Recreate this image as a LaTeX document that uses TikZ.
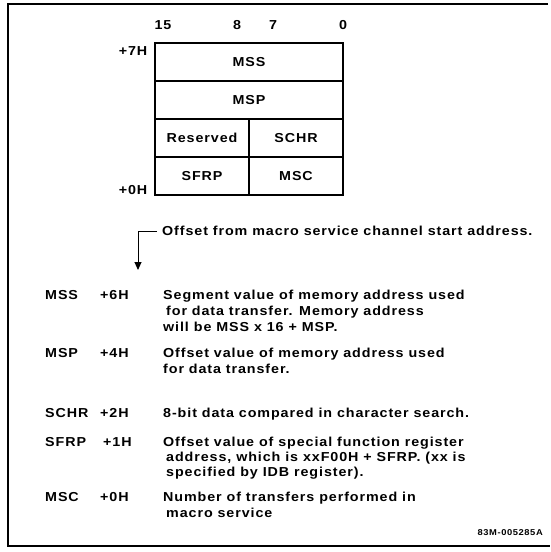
\documentclass[tikz,border=0pt]{standalone}
\usepackage{fontspec}
\usetikzlibrary{arrows.meta}
\newfontfamily\df[FakeStretch=1.1,LetterSpace=7]{Liberation Sans Bold}
\begin{document}
\begin{tikzpicture}[x=1pt,y=-1pt,
  txt/.style={font=\df\fontsize{13}{15}\selectfont, inner sep=0pt, anchor=base west},
  lbl/.style={font=\df\fontsize{13}{15}\selectfont, inner sep=0pt, anchor=base},
  cell/.style={draw, line width=1.5pt, inner sep=0pt, text height=9.3pt, text depth=0pt,
    font=\df\fontsize{13}{15}\selectfont},
  wide/.style={cell, minimum width=188pt, minimum height=38pt},
  half/.style={cell, minimum width=94pt, minimum height=38pt},
  frame/.style={line width=1.4pt},
  conn/.style={line width=1pt, -{Triangle[length=8pt,width=7pt]}}]
\useasboundingbox (0,0) rectangle (550,552);
% frame
\draw[frame] (548,4) -- (8,4) -- (8,546) -- (550,546);
% bit numbers
\node[lbl] (b15) at (163,29.6) {15};
\node[lbl] (b8) at (237,29.6) {8};
\node[lbl] (b7) at (273,29.6) {7};
\node[lbl] (b0) at (343,29.6) {0};
\node[lbl] (o7) at (133,55.6) {+7H};
\node[lbl] (o0) at (133,194.6) {+0H};
% register cells
\node[wide] (mss) at (249,62) {MSS};
\node[wide] (msp) at (249,100) {MSP};
\node[half] (res) at (202,138) {Reserved};
\node[half] (schr) at (296,138) {SCHR};
\node[half] (sfrp) at (202,176) {SFRP};
\node[half] (msc) at (296,176) {MSC};
% offset note and arrow
\node[txt] (off) at (162,235.6) {Offset from macro service channel start address.};
\coordinate (a0) at (157,231);
\coordinate (a1) at (138,231);
\coordinate (a2) at (138,270);
\draw[conn] (a0) -- (a1) -- (a2);
% descriptions
\node[txt] (n1) at (45,299.6) {MSS};
\node[txt] (f1) at (100,299.6) {+6H};
\node[txt] (d1a) at (163,299.6) {Segment value of memory address used};
\node[txt] (d1b) at (166,315.6) {for data transfer. Memory address};
\node[txt] (d1c) at (163,331.6) {will be MSS x 16 + MSP.};
\node[txt] (n2) at (45,357.6) {MSP};
\node[txt] (f2) at (100,357.6) {+4H};
\node[txt] (d2a) at (163,357.6) {Offset value of memory address used};
\node[txt] (d2b) at (163,373.6) {for data transfer.};
\node[txt] (n3) at (45,417.6) {SCHR};
\node[txt] (f3) at (100,417.6) {+2H};
\node[txt] (d3a) at (163,417.6) {8-bit data compared in character search.};
\node[txt] (n4) at (45,446.6) {SFRP};
\node[txt] (f4) at (103,446.6) {+1H};
\node[txt] (d4a) at (163,446.6) {Offset value of special function register};
\node[txt] (d4b) at (166,461.6) {address, which is xxF00H + SFRP. (xx is};
\node[txt] (d4c) at (166,476.6) {specified by IDB register).};
\node[txt] (n5) at (45,501.6) {MSC};
\node[txt] (f5) at (100,501.6) {+0H};
\node[txt] (d5a) at (163,501.6) {Number of transfers performed in};
\node[txt] (d5b) at (166,517.6) {macro service};
\node[font=\df\fontsize{8.5}{10}\selectfont, inner sep=0pt, anchor=base east] (code) at (543,535) {83M-005285A};
\end{tikzpicture}
\end{document}
